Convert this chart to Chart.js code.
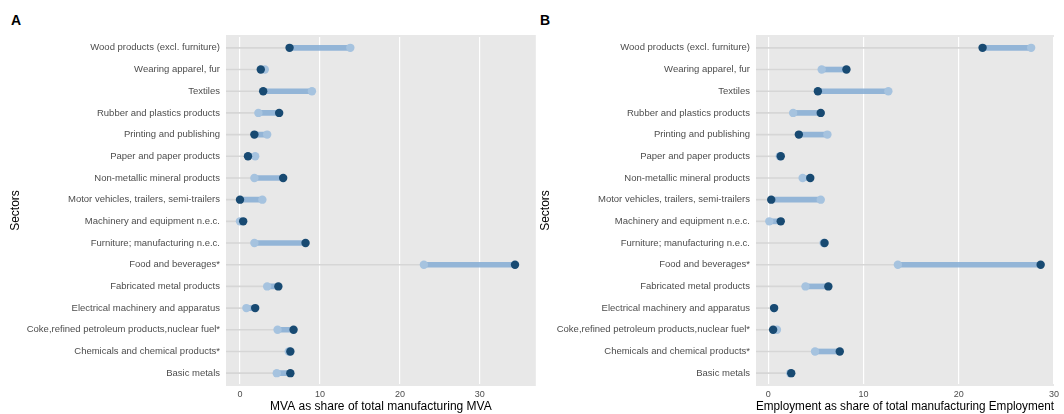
<!DOCTYPE html>
<html>
<head>
<meta charset="utf-8">
<script src="https://cdn.jsdelivr.net/npm/chart.js@4.4.1/dist/chart.umd.min.js"></script>
<style>
  body { margin: 0; background: #fff; font-family: "Liberation Sans", Arial, sans-serif; }
  #wrap { position: relative; width: 1064px; height: 414px; }
  .panel { position: absolute; top: 0; }
  .tag { position: absolute; top: 12px; font-weight: bold; font-size: 14px; color: #000; }
</style>
</head>
<body>
<div id="wrap">
  <div class="tag" style="left:11px">A</div>
  <div class="tag" style="left:540px">B</div>
  <canvas id="mvaChart" class="panel" width="540" height="414" style="left:0"></canvas>
  <canvas id="empChart" class="panel" width="534" height="414" style="left:530px"></canvas>
</div>
<script>
// sectors, top to bottom
const categories = [
  'Wood products (excl. furniture)',
  'Wearing apparel, fur',
  'Textiles',
  'Rubber and plastics products',
  'Printing and publishing',
  'Paper and paper products',
  'Non-metallic mineral products',
  'Motor vehicles, trailers, semi-trailers',
  'Machinery and equipment n.e.c.',
  'Furniture; manufacturing n.e.c.',
  'Food and beverages*',
  'Fabricated metal products',
  'Electrical machinery and apparatus',
  'Coke,refined petroleum products,nuclear fuel*',
  'Chemicals and chemical products*',
  'Basic metals'
];

// MVA share, earlier (light) and later (dark) value
const mvaStart = [13.8, 3.1, 9.0, 2.3, 3.4, 1.9, 1.8, 2.8, 0.0, 1.8, 23.0, 3.4, 0.8, 4.7, 6.1, 4.6];
const mvaEnd   = [6.2, 2.6, 2.9, 4.9, 1.8, 1.0, 5.4, 0.0, 0.4, 8.2, 34.4, 4.8, 1.9, 6.7, 6.3, 6.3];

// employment share, earlier (light) and later (dark) value
const empStart = [27.6, 5.6, 12.6, 2.6, 6.2, 1.2, 3.6, 5.5, 0.1, 5.8, 13.6, 3.9, 0.6, 0.9, 4.9, 2.3];
const empEnd   = [22.5, 8.2, 5.2, 5.5, 3.2, 1.3, 4.4, 0.3, 1.3, 5.9, 28.6, 6.3, 0.6, 0.5, 7.5, 2.4];

const xTickValues = [0, 10, 20, 30];

const panelBg = {
  id: 'panelBg',
  beforeDraw(chart) {
    const { ctx, chartArea: a } = chart;
    ctx.save();
    ctx.fillStyle = '#e8e8e8';
    ctx.fillRect(a.left, a.top - 2, a.right - a.left, a.bottom - a.top + 4);
    ctx.restore();
  }
};

function dumbbell(canvasId, start, end, xMin, xMax, xTitle, rightPad) {
  const guide = categories.map((_, i) => [xMin, Math.min(start[i], end[i])]);
  const segs = categories.map((_, i) => [start[i], end[i]]);
  return new Chart(document.getElementById(canvasId), {
    type: 'bar',
    data: {
      labels: categories,
      datasets: [
        { data: guide, indexAxis: 'y', backgroundColor: '#d6d6d6', barThickness: 1, grouped: false, order: 4 },
        { data: segs, indexAxis: 'y', backgroundColor: 'rgba(132,172,212,0.85)', barThickness: 5, grouped: false, order: 3 },
        { type: 'line', data: start, indexAxis: 'y', showLine: false, pointRadius: 4.2, pointBorderWidth: 0,
          pointBackgroundColor: '#a6c3df', order: 2 },
        { type: 'line', data: end, indexAxis: 'y', showLine: false, pointRadius: 4.2, pointBorderWidth: 0,
          pointBackgroundColor: '#184a72', order: 1 }
      ]
    },
    options: {
      indexAxis: 'y',
      responsive: false,
      animation: false,
      layout: { padding: { top: 37, right: rightPad, left: 0, bottom: 0 } },
      plugins: { legend: { display: false }, tooltip: { enabled: false } },
      scales: {
        x: {
          type: 'linear',
          min: xMin,
          max: xMax,
          afterBuildTicks: s => { s.ticks = xTickValues.map(v => ({ value: v })); },
          afterFit: s => { s.height = 30; },
          grid: { color: '#ffffff', lineWidth: 1.2, drawTicks: false },
          border: { display: false },
          ticks: { padding: 5, color: '#4d4d4d', font: { family: 'Liberation Sans', size: 9 }, maxRotation: 0 },
          title: { display: true, text: xTitle, color: '#000', padding: 0,
                   font: { family: 'Liberation Sans', size: 12, lineHeight: 1.2 } }
        },
        y: {
          afterFit: s => { s.width = 226; },
          grid: { display: false, drawTicks: false },
          border: { display: false },
          ticks: { padding: 6, color: '#4d4d4d', font: { family: 'Liberation Sans', size: 9.5 }, autoSkip: false },
          title: { display: true, text: 'Sectors', color: '#000', padding: { top: 8, bottom: 0 },
                   font: { family: 'Liberation Sans', size: 12, lineHeight: 1.2 } }
        }
      }
    },
    plugins: [panelBg]
  });
}

dumbbell('mvaChart', mvaStart, mvaEnd, -1.75, 37, 'MVA as share of total manufacturing MVA', 4);
dumbbell('empChart', empStart, empEnd, -1.3, 30, 'Employment as share of total manufacturing Employment', 6);
</script>
</body>
</html>
